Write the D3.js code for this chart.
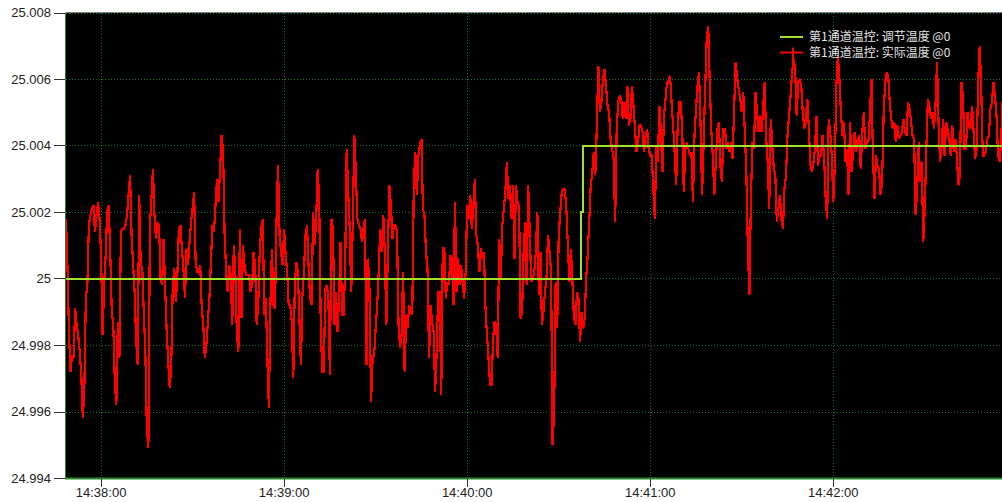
<!DOCTYPE html>
<html>
<head>
<meta charset="utf-8">
<script src="https://cdn.jsdelivr.net/npm/d3@7"></script>
<style>
    body { margin: 0; background: #fff; }
    svg { display: block; }
</style>
</head>
<body>
<div id="chart"></div>
<script>
    'use strict';

    // sampled readings, one every 500 ms starting at startTime
    var startTime = '14:37:48.5';
    var sampleStepMs = 500;

    var actualPart1 = [
        25.0018, 25.0003, 24.9983, 24.9972, 24.9977, 24.9976, 24.9991, 24.9986, 24.9983, 24.9978,
        24.9971, 24.9958, 24.9966, 24.9994, 24.9998, 25.0016, 25.0019, 25.0021, 25.0022, 25.0014,
        25.0019, 25.0023, 25.0018, 25.0007, 24.9983, 24.9998, 25.0007, 25.0020, 25.0022, 25.0008,
        24.9990, 24.9986, 24.9969, 24.9962, 24.9987, 24.9976, 25.0014, 25.0015, 25.0015, 25.0016,
        25.0019, 25.0025, 25.0031, 25.0013, 25.0004, 24.9996, 24.9981, 24.9974, 25.0025, 25.0004,
        25.0003, 24.9990, 24.9978, 24.9955, 24.9949, 25.0016, 25.0024, 25.0033, 25.0019, 25.0012,
        25.0017, 25.0016, 25.0000, 24.9998, 25.0012, 24.9997, 24.9984, 24.9975, 24.9967, 24.9974,
        24.9998, 25.0003, 24.9993, 25.0001, 25.0015, 25.0016, 25.0009, 25.0003, 24.9994, 25.0009,
        25.0004, 25.0011, 25.0017, 25.0021, 25.0026, 25.0005, 25.0002, 25.0002, 25.0004, 24.9991,
        24.9986, 24.9976, 24.9980, 24.9987, 24.9994, 25.0005, 25.0016, 25.0014, 25.0022, 25.0030,
        25.0023, 25.0033, 25.0043
    ];
    var actualPart2 = [
        25.0038, 25.0013, 25.0002, 24.9996, 25.0004, 25.0001, 24.9986,
        25.0010, 25.0002, 24.9984, 24.9978, 25.0015, 24.9988, 25.0010, 25.0004, 25.0001, 25.0001,
        25.0001, 24.9996, 24.9998, 25.0008, 25.0004, 24.9986, 24.9992, 25.0008, 25.0015, 25.0018,
        24.9989, 24.9994, 24.9976, 24.9961, 24.9992, 25.0009, 24.9992, 24.9991, 25.0017, 25.0034,
        25.0013, 25.0008, 25.0004, 25.0015, 25.0007, 25.0002, 24.9992, 24.9992, 24.9987, 24.9970,
        24.9998, 25.0005, 25.0002, 24.9988, 24.9974, 24.9995, 25.0002, 25.0013, 25.0016, 25.0004,
        24.9994, 24.9992, 25.0020, 25.0010, 25.0018, 25.0033, 25.0023, 24.9986, 24.9972, 24.9972,
        24.9997, 24.9998, 24.9994, 24.9971, 25.0018, 25.0015, 24.9986, 24.9996, 24.9984, 24.9994,
        25.0011, 24.9989, 24.9989, 25.0003, 25.0039, 25.0026, 25.0015, 24.9996, 25.0016, 25.0043,
        25.0032, 25.0018, 25.0016, 25.0015, 25.0011, 25.0015, 25.0018, 24.9974, 25.0006, 24.9996,
        24.9963, 24.9976, 24.9977, 24.9985, 24.9992, 25.0002
    ];
    var actualPart3 = [
        25.0015, 25.0008, 25.0019, 25.0008,
        24.9986, 25.0008, 25.0028, 25.0022, 25.0012, 25.0016, 25.0016, 25.0014, 24.9986, 24.9979,
        24.9983, 25.0002, 24.9972, 24.9989, 24.9985, 24.9992, 24.9990, 24.9989, 25.0028, 25.0038,
        25.0025, 25.0037, 25.0040, 25.0042, 25.0021, 25.0019, 25.0008, 25.0003, 24.9976, 24.9992,
        24.9987, 24.9984, 24.9966, 24.9978, 24.9996, 24.9996, 24.9965, 25.0009, 25.0009, 24.9994,
        24.9999, 24.9998, 25.0007, 25.0006, 24.9992, 25.0023, 24.9996, 25.0006, 24.9998, 25.0004,
        24.9999, 24.9994, 25.0002, 25.0022, 25.0018, 25.0025, 25.0015, 25.0021, 25.0030, 25.0013,
        25.0010, 25.0002, 25.0009, 25.0006, 25.0008, 24.9991, 24.9983, 24.9976, 24.9968, 24.9968,
        24.9982, 24.9987, 24.9986, 24.9976, 25.0012, 25.0000, 25.0016, 25.0021, 25.0026, 25.0035,
        25.0024, 25.0028, 25.0018, 25.0028, 25.0006, 25.0028, 25.0023, 25.0022, 24.9988, 24.9990,
        25.0008, 25.0017, 24.9998, 25.0028, 25.0014, 24.9999, 25.0000, 25.0002
    ];
    var actualPart4 = [
        25.0008, 25.0020,
        24.9995, 25.0008, 24.9986, 24.9990, 24.9996, 25.0000, 25.0013, 25.0008, 25.0002, 24.9950,
        24.9960, 24.9999, 24.9985, 25.0013, 25.0020, 25.0026, 25.0027, 25.0027, 25.0021, 25.0010,
        24.9999, 25.0009, 24.9999, 24.9988, 24.9986, 24.9996, 24.9994, 24.9981, 24.9990, 24.9985,
        24.9988, 25.0000, 25.0007, 25.0017, 25.0028, 25.0032, 25.0038, 25.0031, 25.0046, 25.0064,
        25.0050, 25.0053, 25.0060, 25.0063, 25.0058, 25.0052, 25.0050, 25.0042, 25.0039, 25.0036,
        25.0017, 25.0045, 25.0053, 25.0055, 25.0054, 25.0048, 25.0053, 25.0048, 25.0058, 25.0046,
        25.0048, 25.0058, 25.0052, 25.0045, 25.0038, 25.0041, 25.0046, 25.0046, 25.0044, 25.0038,
        25.0043, 25.0045, 25.0039, 25.0037, 25.0037, 25.0027, 25.0018, 25.0040, 25.0035, 25.0052,
        25.0044, 25.0032, 25.0049, 25.0054, 25.0059, 25.0059, 25.0061, 25.0053, 25.0046, 25.0038,
        25.0028, 25.0046, 25.0053, 25.0053, 25.0044, 25.0026, 25.0039, 25.0041, 25.0039, 25.0037,
        25.0038
    ];
    var actualPart5 = [
        25.0023, 25.0043, 25.0051, 25.0058, 25.0062, 25.0046, 25.0025, 25.0041, 25.0057,
        25.0072, 25.0076, 25.0059, 25.0045, 25.0037, 25.0025, 25.0035, 25.0045, 25.0047, 25.0034,
        25.0029, 25.0045, 25.0045, 25.0039, 25.0041, 25.0038, 25.0041, 25.0036, 25.0051, 25.0065,
        25.0060, 25.0057, 25.0054, 25.0050, 25.0056, 25.0044, 25.0032, 25.0009, 24.9995, 25.0024,
        25.0041, 25.0039, 25.0056, 25.0050, 25.0044, 25.0049, 25.0044, 25.0051, 25.0059, 25.0042,
        25.0035, 25.0021, 25.0048, 25.0040, 25.0033, 25.0031, 25.0017, 25.0021, 25.0025, 25.0018,
        25.0015, 25.0027, 25.0031, 25.0043, 25.0049, 25.0055, 25.0062, 25.0066, 25.0063, 25.0049,
        25.0059, 25.0060, 25.0058, 25.0050, 25.0045, 25.0048, 25.0054, 25.0045, 25.0034, 25.0032,
        25.0035, 25.0039, 25.0049, 25.0034, 25.0037, 25.0037, 25.0043, 25.0036, 25.0024, 25.0018,
        25.0048, 25.0044, 25.0037, 25.0023, 25.0034, 25.0058, 25.0067, 25.0060, 25.0050, 25.0043,
        25.0047, 25.0035, 25.0039, 25.0025
    ];
    var actualPart6 = [
        25.0047, 25.0032, 25.0038, 25.0044, 25.0038, 25.0042,
        25.0043, 25.0033, 25.0044, 25.0050, 25.0039, 25.0041, 25.0041, 25.0049, 25.0060, 25.0037,
        25.0024, 25.0037, 25.0034, 25.0033, 25.0025, 25.0029, 25.0049, 25.0059, 25.0062, 25.0061,
        25.0053, 25.0048, 25.0045, 25.0047, 25.0041, 25.0046, 25.0042, 25.0043, 25.0044, 25.0048,
        25.0044, 25.0043, 25.0053, 25.0051, 25.0047, 25.0043, 25.0042, 25.0019, 25.0027, 25.0041,
        25.0029, 25.0035, 25.0011, 25.0021, 25.0039, 25.0054, 25.0052, 25.0048, 25.0050, 25.0045,
        25.0052, 25.0065, 25.0047, 25.0035, 25.0040, 25.0048, 25.0037, 25.0047, 25.0045, 25.0042,
        25.0037, 25.0046, 25.0038, 25.0042, 25.0037, 25.0028, 25.0031, 25.0059, 25.0055, 25.0039,
        25.0039, 25.0050, 25.0046, 25.0045, 25.0052, 25.0044, 25.0036, 25.0039, 25.0059, 25.0070,
        25.0057, 25.0037, 25.0037, 25.0038, 25.0042, 25.0043, 25.0051, 25.0053, 25.0059, 25.0055,
        25.0049, 25.0037, 25.0035, 25.0041, 25.0053
    ];

    var setpointTimes = ['14:37:48.5', '14:40:37.3', '14:40:37.9', '14:42:56'];
    var setpointValues = [25.000, 25.002, 25.004, 25.004];

    var yTicks = [24.994, 24.996, 24.998, 25.000, 25.002, 25.004, 25.006, 25.008];
    var yTickLabels = ['24.994', '24.996', '24.998', '25', '25.002', '25.004', '25.006', '25.008'];
    var xTicks = ['14:38:00', '14:39:00', '14:40:00', '14:41:00', '14:42:00'];

    var seriesNames = ['第1通道温控: 调节温度 @0', '第1通道温控: 实际温度 @0'];
    var seriesColors = ['#a2e22c', '#ff0000'];

    var width = 1002, height = 502;
    var plot = {left: 66, right: 1002, top: 12.5, bottom: 478};
    var gridColor = '#18761c';
    var labelFont = '"Liberation Sans", Arial, sans-serif';

    function parseTime(s) {
        var p = s.split(':');
        return new Date(2000, 0, 1, +p[0], +p[1], 0, Math.round(+p[2] * 1000));
    }

    var t0 = parseTime(startTime);
    var actual = [].concat(actualPart1, actualPart2, actualPart3, actualPart4, actualPart5, actualPart6)
        .map(function (v, i) {
            return {time: new Date(t0.getTime() + i * sampleStepMs), value: v};
        });
    var setpoint = setpointTimes.map(function (t, i) {
        return {time: parseTime(t), value: setpointValues[i]};
    });

    var x = d3.scaleTime()
        .domain([parseTime('14:37:48.5'), parseTime('14:42:55.3')])
        .range([plot.left, plot.right]);
    var y = d3.scaleLinear()
        .domain([24.994, 25.008])
        .range([plot.bottom, plot.top]);

    var svg = d3.select('#chart').append('svg')
        .attr('width', width)
        .attr('height', height);

    svg.append('rect')
        .attr('width', width).attr('height', height)
        .attr('fill', '#fff');

    svg.append('defs').append('clipPath').attr('id', 'plot-clip')
        .append('rect')
        .attr('x', plot.left).attr('y', plot.top)
        .attr('width', plot.right - plot.left).attr('height', plot.bottom - plot.top);

    svg.append('rect')
        .attr('x', plot.left).attr('y', plot.top)
        .attr('width', plot.right - plot.left)
        .attr('height', plot.bottom - plot.top)
        .attr('fill', '#000');

    // dotted grid
    var grid = svg.append('g')
        .attr('stroke', gridColor)
        .attr('stroke-width', 1)
        .attr('stroke-dasharray', '1,2')
        .attr('shape-rendering', 'crispEdges');
    grid.selectAll('.hgrid').data(yTicks).enter().append('line')
        .attr('class', 'hgrid')
        .attr('x1', plot.left).attr('x2', plot.right)
        .attr('y1', function (d) { return Math.round(y(d)) + 0.5; })
        .attr('y2', function (d) { return Math.round(y(d)) + 0.5; });
    grid.selectAll('.vgrid').data(xTicks).enter().append('line')
        .attr('class', 'vgrid')
        .attr('x1', function (d) { return Math.round(x(parseTime(d))) + 0.5; })
        .attr('x2', function (d) { return Math.round(x(parseTime(d))) + 0.5; })
        .attr('y1', plot.top).attr('y2', plot.bottom);

    // series
    var line = d3.line()
        .x(function (d) { return x(d.time); })
        .y(function (d) { return y(d.value); });

    var series = svg.append('g').attr('clip-path', 'url(#plot-clip)');
    series.append('path')
        .datum(actual)
        .attr('d', line)
        .attr('fill', 'none')
        .attr('stroke', seriesColors[1])
        .attr('stroke-width', 2.2)
        .attr('stroke-linejoin', 'miter')
        .attr('stroke-miterlimit', 2)
        .attr('shape-rendering', 'crispEdges');
    series.append('path')
        .datum(setpoint)
        .attr('d', line.curve(d3.curveStepAfter))
        .attr('fill', 'none')
        .attr('stroke', seriesColors[0])
        .attr('stroke-width', 2)
        .attr('shape-rendering', 'crispEdges');

    // frame: left and bottom edges
    svg.append('line')
        .attr('x1', plot.left - 0.5).attr('x2', plot.left - 0.5)
        .attr('y1', plot.top).attr('y2', plot.bottom + 1)
        .attr('stroke', '#2b7d2b').attr('stroke-width', 1);
    svg.append('line')
        .attr('x1', plot.left - 1).attr('x2', plot.right)
        .attr('y1', plot.bottom + 0.5).attr('y2', plot.bottom + 0.5)
        .attr('stroke', '#2b8a2b').attr('stroke-width', 2);

    // y axis
    var yAxis = svg.append('g');
    yAxis.selectAll('line').data(yTicks).enter().append('line')
        .attr('x1', 54).attr('x2', plot.left - 1)
        .attr('y1', function (d) { return Math.round(y(d)) + 0.5; })
        .attr('y2', function (d) { return Math.round(y(d)) + 0.5; })
        .attr('stroke', '#333');
    yAxis.selectAll('text').data(yTicks).enter().append('text')
        .attr('x', 51)
        .attr('y', function (d) { return y(d); })
        .attr('dy', '0.36em')
        .attr('text-anchor', 'end')
        .style('font-family', labelFont)
        .style('font-size', '13px')
        .attr('fill', '#222')
        .text(function (d, i) { return yTickLabels[i]; });

    // x axis
    var xAxis = svg.append('g');
    xAxis.selectAll('line').data(xTicks).enter().append('line')
        .attr('x1', function (d) { return Math.round(x(parseTime(d))) + 0.5; })
        .attr('x2', function (d) { return Math.round(x(parseTime(d))) + 0.5; })
        .attr('y1', plot.bottom + 1).attr('y2', plot.bottom + 9)
        .attr('stroke', '#333');
    xAxis.selectAll('text').data(xTicks).enter().append('text')
        .attr('x', function (d) { return x(parseTime(d)); })
        .attr('y', 497)
        .attr('text-anchor', 'middle')
        .style('font-family', labelFont)
        .style('font-size', '13px')
        .attr('fill', '#222')
        .text(function (d) { return d; });

    // legend
    var legend = svg.append('g').attr('transform', 'translate(780,37)');
    var rows = legend.selectAll('g').data(seriesNames).enter().append('g')
        .attr('transform', function (d, i) { return 'translate(0,' + (i * 15.5) + ')'; });
    rows.append('line')
        .attr('x1', 0).attr('x2', 23)
        .attr('stroke', function (d, i) { return seriesColors[i]; })
        .attr('stroke-width', 2);
    rows.filter(function (d, i) { return i === 1; }).append('line')
        .attr('x1', 13).attr('x2', 13)
        .attr('y1', -5).attr('y2', 8)
        .attr('stroke', seriesColors[1])
        .attr('stroke-width', 2);
    rows.append('text')
        .attr('x', 29)
        .attr('dy', '0.36em')
        .style('font-family', '"Noto Sans CJK SC", sans-serif')
        .style('font-size', '12px')
        .attr('fill', '#e4e4e4')
        .text(function (d) { return d; });
</script>
</body>
</html>
